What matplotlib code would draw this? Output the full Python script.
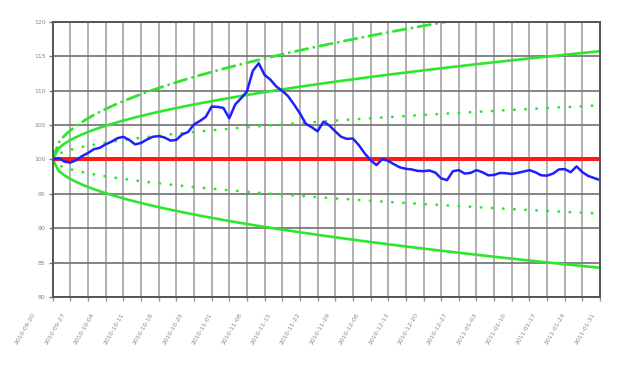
import matplotlib
matplotlib.use("Agg")
import matplotlib.pyplot as plt
import matplotlib.transforms as mtransforms
import numpy as np

# normalised index (start = 100), one value per trading day
price = [100.0, 100.2, 99.7, 99.55, 99.9, 100.5, 100.95, 101.5, 101.7, 102.2,
         102.6, 103.1, 103.3, 102.85, 102.2, 102.4, 102.9, 103.3, 103.4, 103.2,
         102.75, 102.85, 103.65, 104.0, 105.1, 105.6, 106.2, 107.7, 107.65, 107.5,
         106.0, 108.0, 108.9, 109.9, 112.9, 114.0, 112.3, 111.6, 110.6, 110.0,
         109.2, 108.0, 106.7, 105.2, 104.7, 104.1, 105.5, 104.95, 104.1, 103.3,
         103.0, 103.05, 102.1, 100.9, 99.9, 99.2, 100.05, 99.8, 99.3, 98.85,
         98.65, 98.55, 98.35, 98.3, 98.4, 98.1, 97.25, 97.0, 98.3, 98.45,
         97.95, 98.05, 98.45, 98.15, 97.7, 97.75, 98.05, 98.0, 97.9, 98.05,
         98.25, 98.45, 98.15, 97.7, 97.65, 97.95, 98.55, 98.6, 98.15, 99.0,
         98.15, 97.6, 97.3, 97.0]

# weekly labels (every 5 trading days)
date_labels = ["2010-09-20", "2010-09-27", "2010-10-04", "2010-10-11", "2010-10-18",
               "2010-10-25", "2010-11-01", "2010-11-08", "2010-11-15", "2010-11-22",
               "2010-11-29", "2010-12-06", "2010-12-13", "2010-12-20", "2010-12-27",
               "2011-01-03", "2011-01-10", "2011-01-17", "2011-01-24", "2011-01-31"]

base = 100
sigma_day = 0.8166

t = np.arange(len(price))
band = sigma_day * np.sqrt(t)

green = "#2fe62f"

fig = plt.figure(figsize=(6.18, 3.71), dpi=100)
ax = fig.add_axes([0.0853, 0.1995, 0.8857, 0.7412])

# 1 sigma dotted, 2 sigma solid, 3 sigma dash-dot (upper only)
ax.plot(t, base + band, color=green, lw=2, linestyle=(0, (0.1, 3.9)), dash_capstyle="round")
ax.plot(t, base - band, color=green, lw=2, linestyle=(0, (0.1, 3.9)), dash_capstyle="round")
ax.plot(t, base + 2 * band, color=green, lw=1.9)
ax.plot(t, base - 2 * band, color=green, lw=1.9)
ax.plot(t, base + 3 * band, color=green, lw=2, linestyle=(0, (4.5, 2.2, 0.1, 2.2)), dash_capstyle="round")

ax.axhline(base, color="#ff1a1a", lw=2.9)
ax.plot(t, price, color="#1f1fff", lw=1.8)

ax.set_xlim(0, len(price) - 1)
ax.set_ylim(80, 120)

ax.set_xticks(np.arange(0, len(price), 3))
ax.set_xticklabels([])
ax.set_yticks(np.arange(80, 121, 5))
ax.tick_params(axis="x", length=3, width=1, color="#999999")
ax.tick_params(axis="y", length=3, width=1, color="#777777", labelsize=4.5,
               labelcolor="#888888", pad=2)

ax.grid(axis="x", color="#b0b0b0", lw=1.4)
ax.grid(axis="y", color="#707070", lw=1.2)
ax.set_axisbelow(True)
for s in ax.spines.values():
    s.set_color("#555555")
    s.set_linewidth(1.4)

# rotated date labels
off = mtransforms.ScaledTranslation(-16 / 100, -15 / 100, fig.dpi_scale_trans)
trans = ax.get_xaxis_transform() + off
for k, lab in enumerate(date_labels):
    ax.text(k * 5, 0, lab, transform=trans, rotation=60, ha="right", va="top",
            fontsize=4.5, color="#888888", clip_on=False)

fig.savefig("out.png", dpi=100)
